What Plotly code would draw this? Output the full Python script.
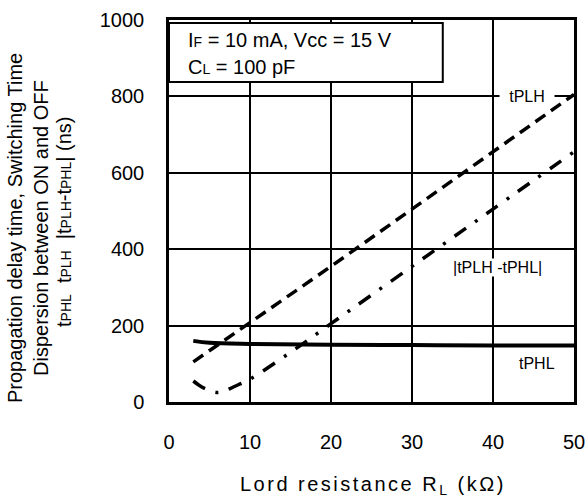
import plotly.graph_objects as go

# ---- data ----
x_plh = [3, 10, 20, 30, 40, 50]
t_plh = [105, 208, 355, 505, 655, 805]

x_phl = [3, 5, 10, 20, 30, 40, 50]
t_phl = [160, 155, 152, 150, 149, 148, 148]

x_diff = [3, 4, 5, 6, 7, 8, 10, 15, 20, 30, 40, 50]
t_diff = [55, 40, 30, 25, 30, 40, 60, 130, 205, 355, 505, 655]

x_ticks = [0, 10, 20, 30, 40, 50]
y_ticks = [0, 200, 400, 600, 800, 1000]

FONT = "Liberation Sans, Arial, sans-serif"

fig = go.Figure()
fig.add_trace(go.Scatter(x=x_plh, y=t_plh, mode="lines",
                         line=dict(color="black", width=3.5, dash="12px,7px"),
                         showlegend=False, hoverinfo="skip"))
fig.add_trace(go.Scatter(x=x_diff, y=t_diff, mode="lines", line_shape="spline",
                         line=dict(color="black", width=3.5, dash="14px,11px,3px,11px"),
                         showlegend=False, hoverinfo="skip"))
fig.add_trace(go.Scatter(x=x_phl, y=t_phl, mode="lines", line_shape="spline",
                         line=dict(color="black", width=4),
                         showlegend=False, hoverinfo="skip"))

fig.update_layout(
    width=588, height=500,
    margin=dict(l=169, r=14, t=20, b=98, autoexpand=False),
    paper_bgcolor="white", plot_bgcolor="white",
    font=dict(family=FONT, size=20, color="black"),
    showlegend=False,
)
fig.update_xaxes(range=[0, 50], tickvals=x_ticks, ticks="", showgrid=True,
                 gridcolor="black", gridwidth=2, showline=True, linecolor="black",
                 linewidth=2.5, mirror=True, zeroline=False, ticklabelstandoff=20,
                 tickfont=dict(size=20), automargin=False)
fig.update_yaxes(range=[0, 1000], tickvals=y_ticks, ticks="", showgrid=True,
                 gridcolor="black", gridwidth=2, showline=True, linecolor="black",
                 linewidth=2.5, mirror=True, zeroline=False, ticklabelstandoff=18,
                 tickfont=dict(size=20), automargin=False)

# condition box
fig.add_shape(type="rect", xref="x", yref="y", x0=0, x1=33.8, y0=838, y1=992,
              fillcolor="white", line=dict(color="black", width=2), layer="above")

small = '<span style="font-size:14px">{}</span>'
fig.add_annotation(xref="paper", yref="paper", x=(186 - 169) / 405, y=(402 - 40) / 382,
                   xanchor="left", yanchor="middle", showarrow=False,
                   text="I" + small.format("F") + " = 10 mA, Vcc = 15 V",
                   font=dict(size=20))
fig.add_annotation(xref="paper", yref="paper", x=(186 - 169) / 405, y=(402 - 67) / 382,
                   xanchor="left", yanchor="middle", showarrow=False,
                   text="C" + small.format("L") + " = 100 pF",
                   font=dict(size=20))

# curve labels
fig.add_annotation(x=44.2, y=800, text="tPLH", showarrow=False, bgcolor="white",
                   width=54, borderpad=0, font=dict(size=16))
fig.add_annotation(x=40.6, y=353, text="|tPLH -tPHL|", showarrow=False, bgcolor="white",
                   borderpad=0, font=dict(size=16))
fig.add_annotation(x=45.4, y=102, text="tPHL", showarrow=False, font=dict(size=16))

# axis titles
fig.add_annotation(xref="paper", yref="paper", x=(373 - 169) / 405, y=-(485 - 402) / 382,
                   xanchor="center", yanchor="middle", showarrow=False,
                   text='<span style="letter-spacing:2.5px">Lord resistance R<sub>L</sub> (kΩ)</span>',
                   font=dict(size=20))
ylines = [
    ("Propagation delay time, Switching Time", 15, 228),
    ("Dispersion between ON and OFF", 41, 228),
    ("t<span style='font-size:14px'>PHL</span>  t<span style='font-size:14px'>PLH</span>  "
     "|t<span style='font-size:14px'>PLH</span>-t<span style='font-size:14px'>PHL</span>| (ns)", 64, 222),
]
for txt, px, py in ylines:
    fig.add_annotation(xref="paper", yref="paper", x=(px - 169) / 405, y=(402 - py) / 382,
                       xanchor="center", yanchor="middle", textangle=-90,
                       showarrow=False, text=txt, font=dict(size=20))

fig.write_html("out.html")
